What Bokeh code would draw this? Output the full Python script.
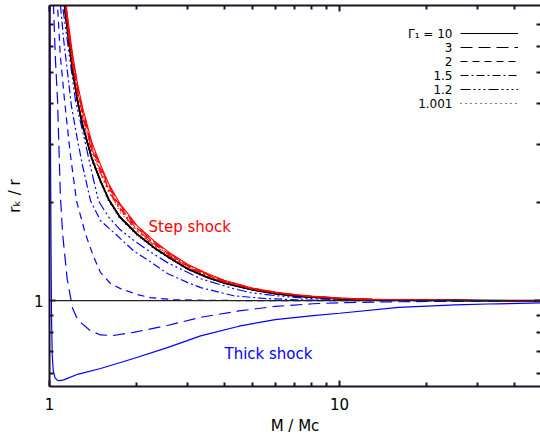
from bokeh.plotting import figure
from bokeh.models import (FixedTicker, LogAxis, Span, Label, Legend, LegendItem,
                          PrintfTickFormatter)
from bokeh.embed import file_html
from bokeh.resources import INLINE

# ---------------- data ----------------
# Step shock (red) and limit (black) curves share one grid of M / Mc
M_step = [1.11, 1.13, 1.15, 1.2, 1.25, 1.3, 1.4, 1.5, 1.6, 1.75, 2.0, 2.3, 2.6, 3.0,
          3.5, 4.0, 5.0, 6.0, 7.0, 8.0, 10, 13, 17, 22, 30, 40, 50]
step_g10 = [13.0, 9.0, 7.6, 5.7, 4.6, 3.9, 3.05, 2.6, 2.28, 1.98, 1.70, 1.52, 1.40, 1.29,
            1.21, 1.155, 1.093, 1.062, 1.044, 1.032, 1.018, 1.009, 1.005, 1.003, 1.001, 1.0, 1.0]
step_g3 = [12.74, 8.82, 7.45, 5.60, 4.52, 3.84, 3.00, 2.565, 2.252, 1.958, 1.685, 1.509, 1.391, 1.284,
           1.205, 1.152, 1.091, 1.061, 1.043, 1.031, 1.018, 1.009, 1.005, 1.003, 1.001, 1.0, 1.0]
step_g2 = [12.47, 8.65, 7.31, 5.49, 4.44, 3.77, 2.96, 2.53, 2.224, 1.937, 1.669, 1.497, 1.382, 1.277,
           1.201, 1.148, 1.089, 1.059, 1.042, 1.031, 1.017, 1.009, 1.005, 1.003, 1.001, 1.0, 1.0]
step_g15 = [12.21, 8.47, 7.16, 5.39, 4.36, 3.71, 2.91, 2.494, 2.196, 1.915, 1.654, 1.486, 1.374, 1.271,
            1.196, 1.145, 1.087, 1.058, 1.041, 1.030, 1.017, 1.008, 1.005, 1.003, 1.001, 1.0, 1.0]
step_g12 = [11.94, 8.30, 7.02, 5.29, 4.28, 3.64, 2.87, 2.459, 2.167, 1.894, 1.638, 1.474, 1.365, 1.264,
            1.192, 1.141, 1.085, 1.057, 1.040, 1.029, 1.016, 1.008, 1.005, 1.003, 1.001, 1.0, 1.0]
step_g1001 = [11.68, 8.12, 6.87, 5.18, 4.20, 3.58, 2.82, 2.424, 2.139, 1.872, 1.623, 1.463, 1.356, 1.258,
              1.187, 1.138, 1.083, 1.055, 1.039, 1.028, 1.016, 1.008, 1.004, 1.003, 1.001, 1.0, 1.0]
limit_black = [9.4, 7.8, 6.9, 5.1, 4.08, 3.45, 2.72, 2.32, 2.04, 1.80, 1.60, 1.45, 1.35, 1.25,
               1.178, 1.132, 1.08, 1.05, 1.035, 1.025, 1.013, 1.007, 1.004, 1.002, 1.001, 1.0, 1.0]
thick_g1001 = [9.19, 7.63, 6.75, 5.0, 4.0, 3.39, 2.68, 2.29, 2.01, 1.78, 1.585, 1.439, 1.341, 1.244,
               1.174, 1.129, 1.078, 1.049, 1.034, 1.024, 1.013, 1.007, 1.004, 1.002, 1.001, 1.0, 1.0]

# Thick shock (blue) curves
M_t10 = [1.003, 1.008, 1.012, 1.016, 1.022, 1.03, 1.045, 1.065, 1.085, 1.12, 1.25, 1.5,
         1.95, 2.55, 3.32, 4.5, 6.0, 8.1, 10, 16, 25, 35, 50]
thick_g10 = [9.0, 3.0, 1.5, 0.9, 0.68, 0.61, 0.58, 0.57, 0.569, 0.572, 0.595, 0.62,
             0.665, 0.718, 0.78, 0.835, 0.875, 0.90, 0.915, 0.954, 0.97, 0.978, 0.984]
M_t3 = [1.022, 1.032, 1.048, 1.066, 1.09, 1.11, 1.15, 1.2, 1.24, 1.28, 1.38, 1.5, 1.66, 1.95,
        2.55, 3.32, 4.5, 6.0, 8.1, 10, 14, 20, 30, 50]
thick_g3 = [12.0, 8.0, 5.5, 4.09, 2.1, 1.6, 1.17, 0.95, 0.89, 0.858, 0.81, 0.785, 0.782, 0.80,
            0.839, 0.889, 0.93, 0.96, 0.978, 0.985, 0.991, 0.994, 0.996, 0.997]
M_t2 = [1.055, 1.066, 1.09, 1.127, 1.18, 1.239, 1.33, 1.42, 1.5, 1.62, 1.757, 2.0, 2.23,
        2.68, 3.5, 5.0, 10, 20, 50]
thick_g2 = [10.0, 8.0, 5.6, 4.09, 2.8, 2.02, 1.60, 1.36, 1.218, 1.13, 1.088, 1.045, 1.021,
            1.007, 1.002, 1.0, 0.999, 0.999, 1.0]
M_t15 = [1.08, 1.091, 1.12, 1.15, 1.19, 1.25, 1.3, 1.385, 1.5, 1.7, 1.95, 2.2, 2.55, 3.0,
         3.32, 4.31, 5.5, 7.3, 10, 20, 50]
thick_g15 = [10.0, 8.0, 6.24, 5.12, 3.94, 3.09, 2.59, 2.02, 1.756, 1.59, 1.42, 1.325, 1.21, 1.135,
             1.096, 1.035, 1.015, 1.005, 1.002, 1.0, 1.0]
M_t12 = [1.1, 1.109, 1.14, 1.18, 1.229, 1.3, 1.38, 1.475, 1.6, 1.75, 1.95, 2.2, 2.55, 3.0,
         3.32, 4.31, 4.93, 6.0, 8.0, 10, 15, 20, 50]
thick_g12 = [9.5, 8.0, 6.7, 5.34, 4.09, 3.31, 2.61, 2.02, 1.80, 1.65, 1.53, 1.42, 1.307, 1.219,
             1.167, 1.088, 1.058, 1.036, 1.014, 1.007, 1.002, 1.001, 1.0]

gamma_labels = ["Γ₁ = 10", "3", "2", "1.5", "1.2", "1.001"]
dashes = ["solid", "12 6", "7 5", "8 3 2 3", "10 3 2 3 2 3 2 3", "1 4"]

x_major = [1, 10]
x_minor = [2, 3, 4, 5, 6, 7, 8, 9, 20, 30, 40]
y_major = [1]
y_minor = [0.6, 0.7, 0.8, 0.9, 2, 3, 4, 5, 6, 7]

# ---------------- figure ----------------
FONT = "DejaVu Sans"
AX = "#1c1226"

p = figure(width=540, height=441, x_axis_type="log", y_axis_type="log",
           x_range=(1.0, 49.3), y_range=(0.546, 8.0),
           output_backend="svg", toolbar_location=None,
           min_border_left=49, min_border_right=0, min_border_top=5, min_border_bottom=55)
p.grid.visible = False
p.outline_line_color = None


def style_axis(ax, major, minor, labels=True):
    ax.ticker = FixedTicker(ticks=major, minor_ticks=minor)
    ax.axis_line_color = AX
    ax.axis_line_width = 2
    ax.major_tick_in = 6
    ax.major_tick_out = 0
    ax.minor_tick_in = 4
    ax.minor_tick_out = 0
    ax.major_tick_line_color = AX
    ax.minor_tick_line_color = AX
    ax.major_tick_line_width = 2
    ax.minor_tick_line_width = 2
    ax.formatter = PrintfTickFormatter(format="%d")
    if labels:
        ax.major_label_text_font = FONT
        ax.major_label_text_font_size = "15px"
        ax.major_label_text_color = "black"
        ax.axis_label_text_font = FONT
        ax.axis_label_text_font_style = "normal"
        ax.axis_label_text_font_size = "15px"
        ax.axis_label_text_color = "black"
    else:
        ax.major_label_text_font_size = "1px"
        ax.major_label_text_alpha = 0
        ax.major_label_standoff = 0


xa = p.xaxis[0]
style_axis(xa, x_major, x_minor)
xa.major_label_standoff = 11
xa.axis_label = "M / Mc"
xa.axis_label_standoff = 4

ya = p.yaxis[0]
style_axis(ya, y_major, y_minor)
ya.major_label_standoff = 6
ya.axis_label = "rₖ / r"
ya.axis_label_standoff = 7

top = LogAxis()
style_axis(top, x_major, x_minor, labels=False)
p.add_layout(top, "above")
right = LogAxis()
style_axis(right, y_major, y_minor, labels=False)
right.axis_line_color = None
p.add_layout(right, "right")

p.add_layout(Span(location=1, dimension="width", line_color="#222222", line_width=1.4))

# thick shock curves (blue)
blue = "#0000ff"
thick = [(M_t10, thick_g10), (M_t3, thick_g3), (M_t2, thick_g2),
         (M_t15, thick_g15), (M_t12, thick_g12), (M_step, thick_g1001)]
for (mx, ry), d in zip(thick, dashes):
    p.line(mx, ry, line_color=blue, line_width=1.2, line_dash=d)

# legend samples: black line styles, drawn underneath the solid black curve
items = []
for lab_t, d in zip(gamma_labels, dashes):
    r = p.line(M_step, limit_black, line_color="black", line_width=1.1, line_dash=d)
    items.append(LegendItem(label=" ", renderers=[r]))

p.line(M_step, limit_black, line_color="black", line_width=1.8)

red = "#ff0000"
steps = [step_g10, step_g3, step_g2, step_g15, step_g12, step_g1001]
for ry, d in zip(steps, dashes):
    p.line(M_step, ry, line_color=red, line_width=1.1, line_dash=d)

leg = Legend(items=items, location=(411, 276), glyph_width=58, glyph_height=14,
             label_height=14, label_standoff=0, spacing=0, padding=0,
             margin=0, border_line_color=None, background_fill_alpha=0,
             label_text_font_size="2px")
p.add_layout(leg)


def lab(text, x, y, size="15px", color="black", align="left", baseline="alphabetic"):
    p.add_layout(Label(x=x, y=y, x_units="screen", y_units="screen", text=text,
                       text_font=FONT, text_font_size=size, text_color=color,
                       text_align=align, text_baseline=baseline))


rows_y = [353, 339, 325, 311, 297, 283]
for t, yy in zip(gamma_labels, rows_y):
    lab(t, 403, yy, size="12px", align="right", baseline="middle")

lab("Step shock", 99, 160, color=red)
lab("Thick shock", 175, 33, color=blue)

open("out.html", "w").write(file_html(p, INLINE))
